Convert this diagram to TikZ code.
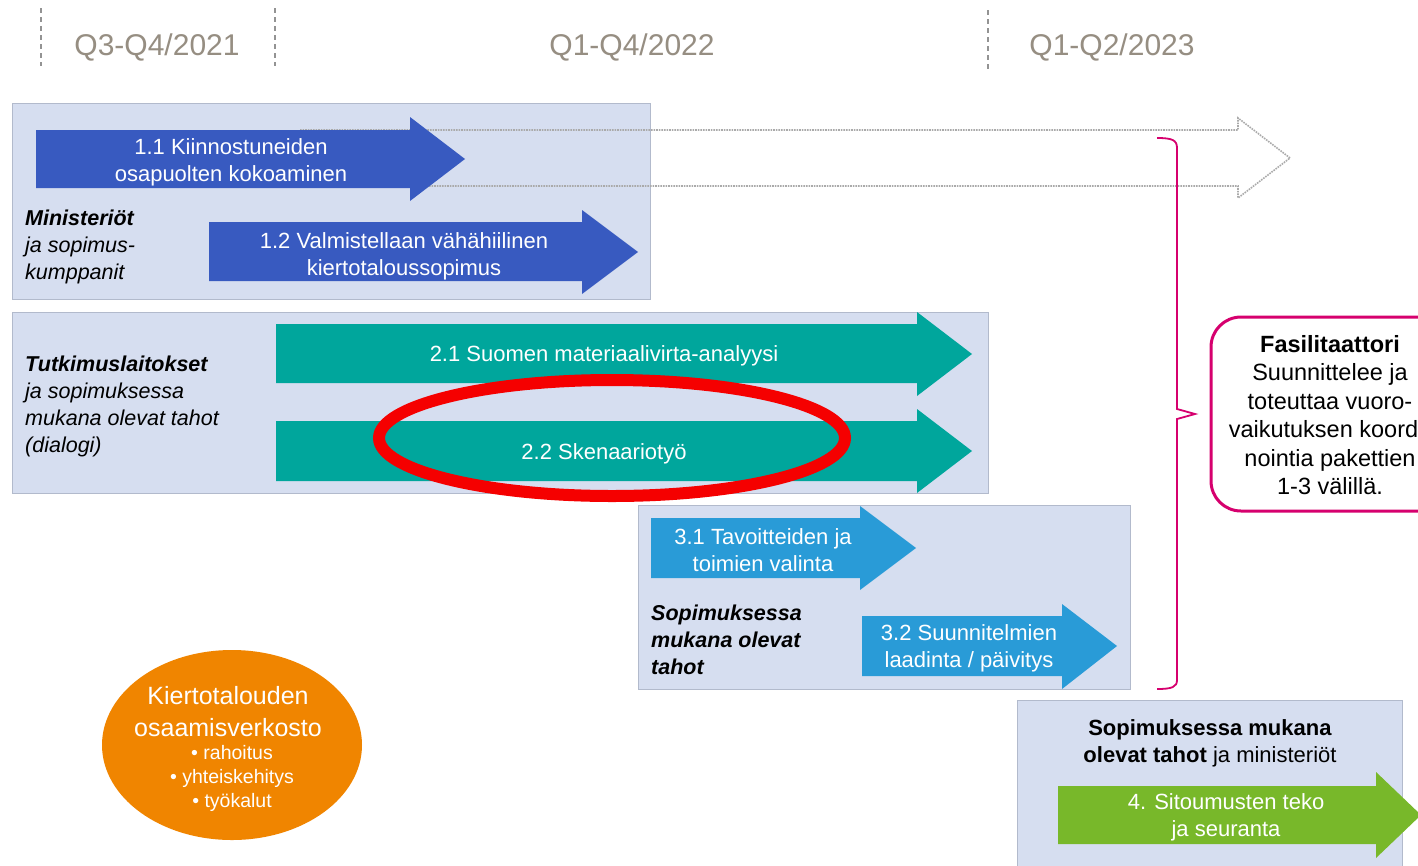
\documentclass[tikz,border=0pt]{standalone}
\usepackage{fontspec}
\setmainfont{Liberation Sans}
\usetikzlibrary{shapes.geometric}
\definecolor{boxfill}{RGB}{214,222,240}
\definecolor{boxline}{RGB}{178,186,204}
\definecolor{blueA}{RGB}{56,90,192}
\definecolor{tealA}{RGB}{0,166,156}
\definecolor{skyA}{RGB}{41,155,215}
\definecolor{greenA}{RGB}{120,184,42}
\definecolor{orangeA}{RGB}{240,133,0}
\definecolor{magA}{RGB}{214,0,110}
\definecolor{hdr}{RGB}{150,142,130}
\definecolor{redA}{RGB}{245,0,0}
\definecolor{dotgray}{RGB}{170,170,170}
\begin{document}
\begin{tikzpicture}[x=1pt,y=-1pt,
  grp/.style={fill=boxfill,draw=boxline,line width=1pt},
  atext/.style={text=white,font=\fontsize{22}{27}\selectfont,align=center,inner sep=0pt},
  lbl/.style={font=\fontsize{21.5}{27}\selectfont\itshape,align=left,anchor=west,inner sep=0pt},
  hdrtext/.style={text=hdr,font=\fontsize{30}{36}\selectfont,inner sep=0pt},
  vdash/.style={draw=gray!85,line width=1.4pt,dash pattern=on 5pt off 4pt},
  ghost/.style={draw=dotgray,line width=1.6pt,densely dotted}]
\path[use as bounding box] (0,0) rectangle (1418,865);
\clip (0,0) rectangle (1418,865);
\fill[white] (0,0) rectangle (1418,865);

% header
\draw[vdash] (41,8) -- (41,66);
\draw[vdash] (275,8) -- (275,66);
\draw[vdash] (988,10) -- (988,70);
\node[hdrtext] (h1) at (157,47) {Q3-Q4/2021};
\node[hdrtext] (h2) at (632,47) {Q1-Q4/2022};
\node[hdrtext] (h3) at (1112,47) {Q1-Q2/2023};

% group 1
\path[grp] (12,103) rectangle (650,299);
\draw[ghost] (300,130) -- (1238,130) -- (1238,118) -- (1290,158) -- (1238,198) -- (1238,186) -- (300,186);
\fill[blueA] (36,130) -- (410,130) -- (410,117) -- (465,159) -- (410,201) -- (410,188) -- (36,188) -- cycle;
\node[atext] (t11) at (231,162) {1.1 Kiinnostuneiden\\osapuolten kokoaminen};
\fill[blueA] (209,222) -- (582,222) -- (582,210) -- (638,252) -- (582,294) -- (582,281) -- (209,281) -- cycle;
\node[atext] (t12) at (404,256) {1.2 Valmistellaan vähähiilinen\\kiertotaloussopimus};
\node[lbl] (l1) at (25,247) {\textbf{Ministeriöt}\\ja sopimus-\\kumppanit};

% group 2
\path[grp] (12,312) rectangle (988,493);
\fill[tealA] (276,324) -- (917,324) -- (917,312) -- (972,354) -- (917,396) -- (917,383) -- (276,383) -- cycle;
\node[atext] (t21) at (604,356) {2.1 Suomen materiaalivirta-analyysi};
\fill[tealA] (276,421) -- (917,421) -- (917,409) -- (972,451) -- (917,493) -- (917,481) -- (276,481) -- cycle;
\node[atext] (t22) at (604,454) {2.2 Skenaariotyö};
\node[lbl] (l2) at (25,406) {\textbf{Tutkimuslaitokset}\\ja sopimuksessa\\mukana olevat tahot\\(dialogi)};
\draw[redA,line width=12pt] (612,438) ellipse [x radius=233, y radius=58];

% group 3
\path[grp] (638,505) rectangle (1130,689);
\fill[skyA] (651,518) -- (860,518) -- (860,506) -- (916,548) -- (860,590) -- (860,578) -- (651,578) -- cycle;
\node[atext] (t31) at (763,550) {3.1 Tavoitteiden ja\\toimien valinta};
\fill[skyA] (862,616) -- (1062,616) -- (1062,604) -- (1117,646) -- (1062,689) -- (1062,676) -- (862,676) -- cycle;
\node[atext] (t32) at (969,648.5) {3.2 Suunnitelmien\\laadinta / päivitys};
\node[lbl,font=\fontsize{21.5}{27}\selectfont\bfseries\itshape] (l3) at (651,640) {Sopimuksessa\\mukana olevat\\tahot};

% bracket
\draw[magA,line width=1.8pt] (1157,138) .. controls (1172,138) and (1177,140) .. (1177,148) -- (1177,409) -- (1195,414) -- (1177,419) -- (1177,680) .. controls (1177,687) and (1172,689) .. (1157,689);

% facilitator
\draw[magA,line width=3pt,fill=white,rounded corners=30pt] (1211,317) rectangle (1450,511);
\node[font=\fontsize{23.5}{28.4}\selectfont,align=center,inner sep=0pt] (fas) at (1330,415)
  {\textbf{Fasilitaattori}\\Suunnittelee ja\\toteuttaa vuoro-\\vaikutuksen koordi-\\nointia pakettien\\1-3 välillä.};

% group 4
\path[grp] (1017,700) rectangle (1402,875);
\node[font=\fontsize{22}{27}\selectfont,align=center,inner sep=0pt] (l4) at (1210,743.5)
  {\textbf{Sopimuksessa mukana}\\\textbf{olevat tahot} ja ministeriöt};
\fill[greenA] (1058,786) -- (1376,786) -- (1376,772) -- (1421,815) -- (1376,858) -- (1376,844) -- (1058,844) -- cycle;
\node[atext] (t4) at (1226,817.5) {4. Sitoumusten teko\\ja seuranta};

% network ellipse
\node[ellipse,fill=orangeA,minimum width=260pt,minimum height=190pt,inner sep=0pt] (net) at (232,745) {};
\node[text=white,font=\fontsize{25}{32}\selectfont,align=center,inner sep=0pt] (netT) at (228,712) {Kiertotalouden\\osaamisverkosto};
\node[text=white,font=\fontsize{19.5}{24}\selectfont,align=center,inner sep=0pt] (netB) at (232,778.5) {• rahoitus\\• yhteiskehitys\\• työkalut};
\end{tikzpicture}
\end{document}
